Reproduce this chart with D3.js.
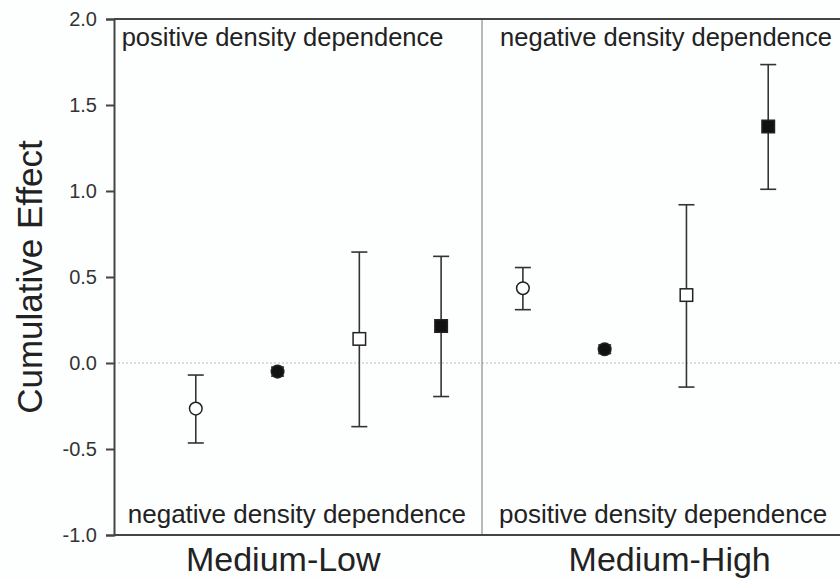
<!DOCTYPE html>
<html><head><meta charset="utf-8">
<script src="https://cdn.jsdelivr.net/npm/d3@7"></script>
<style>
html,body{margin:0;padding:0;background:#fdfefe;}
svg{display:block;font-family:"Liberation Sans",Arial,sans-serif;}
</style></head>
<body><div id="chart"></div>
<script>
// ---- data ----
const groups = ["Medium-Low", "Medium-High"];
const categories = ["ML-1","ML-2","ML-3","ML-4","MH-1","MH-2","MH-3","MH-4"];
const markers = ["openCircle","filledCircle","openSquare","filledSquare","openCircle","filledCircle","openSquare","filledSquare"];
const means = [-0.265, -0.05, 0.14, 0.215, 0.435, 0.08, 0.395, 1.375];
const lower = [-0.465, -0.076, -0.37, -0.195, 0.31, 0.055, -0.14, 1.01];
const upper = [-0.07, -0.024, 0.645, 0.62, 0.555, 0.105, 0.92, 1.735];
const yTicks = [-1.0, -0.5, 0.0, 0.5, 1.0, 1.5, 2.0];
const yTickLabels = ["-1.0", "-0.5", "0.0", "0.5", "1.0", "1.5", "2.0"];
const topNotes = ["positive density dependence", "negative density dependence"];
const bottomNotes = ["negative density dependence", "positive density dependence"];
const yTitle = "Cumulative Effect";

// ---- layout ----
const W = 840, H = 580;
const mLeft = 114, mRight = 850, mTop = 19, mBottom = 535;
const ink = "#222", axisCol = "#444";

const svg = d3.select("#chart").append("svg").attr("width", W).attr("height", H);
svg.append("rect").attr("width", W).attr("height", H).attr("fill", "#fdfefe");

const y = d3.scaleLinear().domain([-1, 2]).range([mBottom, mTop]);
const x = d3.scalePoint().domain(categories).range([mLeft, mRight]).padding(1);
const divX = (x(categories[3]) + x(categories[4])) / 2;

// zero dotted line
svg.append("line")
  .attr("x1", mLeft).attr("x2", W).attr("y1", y(0)).attr("y2", y(0))
  .attr("stroke", "#b8b8b8").attr("stroke-width", 1).attr("stroke-dasharray", "2,2");

// divider
svg.append("line")
  .attr("x1", divX).attr("x2", divX).attr("y1", y(2)).attr("y2", y(-1))
  .attr("stroke", "#8a8a8a").attr("stroke-width", 1.2);

// frame lines top & bottom
svg.append("line").attr("x1", mLeft).attr("x2", W).attr("y1", y(2)).attr("y2", y(2))
  .attr("stroke", axisCol).attr("stroke-width", 2);
svg.append("line").attr("x1", mLeft).attr("x2", W).attr("y1", y(-1)).attr("y2", y(-1))
  .attr("stroke", axisCol).attr("stroke-width", 2);

// y axis
const yAxis = d3.axisLeft(y).tickValues(yTicks).tickSize(8).tickPadding(9)
  .tickFormat((d, i) => yTickLabels[i]);
const ga = svg.append("g").attr("transform", `translate(${mLeft},0)`).call(yAxis);
ga.select(".domain").attr("stroke", axisCol).attr("stroke-width", 2);
ga.selectAll(".tick line").attr("stroke", axisCol).attr("stroke-width", 2);
ga.selectAll(".tick text").attr("fill", "#333").style("font-size", "20px")
  .style("font-family", "'Liberation Sans', Arial, sans-serif");

// y title
svg.append("text")
  .attr("transform", `translate(42,${(mTop + mBottom) / 2}) rotate(-90)`)
  .attr("text-anchor", "middle").attr("fill", ink)
  .style("font-size", "35px").text(yTitle);

// panel notes
const panelLeft = [mLeft, divX];
const panelW = divX - mLeft;
topNotes.forEach((t, i) => {
  svg.append("text").attr("x", panelLeft[i] + panelW * (i === 0 ? 0.458 : 0.5)).attr("y", y(2) + 27)
    .attr("text-anchor", "middle").attr("fill", ink).style("font-size", "25.5px").text(t);
});
bottomNotes.forEach((t, i) => {
  svg.append("text").attr("x", panelLeft[i] + panelW * (i === 0 ? 0.497 : 0.492)).attr("y", y(-1) - 12)
    .attr("text-anchor", "middle").attr("fill", ink).style("font-size", "26px").text(t);
});

// group labels
groups.forEach((g, i) => {
  svg.append("text").attr("x", panelLeft[i] + panelW * (i === 0 ? 0.46 : 0.51)).attr("y", 571)
    .attr("text-anchor", "middle").attr("fill", ink).style("font-size", "34px").text(g);
});

// error bars
const capW = 8;
const pts = categories.map((c, i) => ({c, m: markers[i], v: means[i], lo: lower[i], hi: upper[i]}));
const eb = svg.append("g").attr("stroke", "#333").attr("stroke-width", 1.6);
pts.forEach(p => {
  const cx = x(p.c);
  eb.append("line").attr("x1", cx).attr("x2", cx).attr("y1", y(p.lo)).attr("y2", y(p.hi));
  const cw = p.m === "filledCircle" ? 6.5 : capW;
  [p.lo, p.hi].forEach(v => eb.append("line").attr("x1", cx - cw).attr("x2", cx + cw).attr("y1", y(v)).attr("y2", y(v)));
});

// markers
pts.forEach(p => {
  const cx = x(p.c), cy = y(p.v);
  const filled = p.m.startsWith("filled");
  if (p.m.endsWith("Circle")) {
    svg.append("circle").attr("cx", cx).attr("cy", cy).attr("r", 6.3)
      .attr("fill", filled ? "#111" : "#fff").attr("stroke", "#222").attr("stroke-width", 1.5);
  } else {
    const s = 12.5;
    svg.append("rect").attr("x", cx - s / 2).attr("y", cy - s / 2).attr("width", s).attr("height", s)
      .attr("fill", filled ? "#111" : "#fff").attr("stroke", "#222").attr("stroke-width", 1.5);
  }
});
</script></body></html>
